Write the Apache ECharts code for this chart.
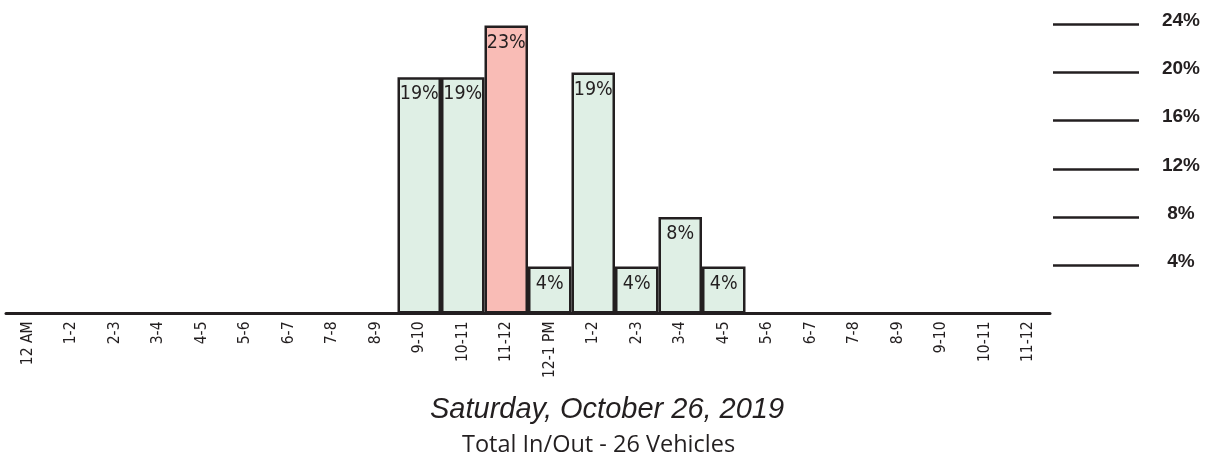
<!DOCTYPE html>
<html>
<head>
<meta charset="utf-8">
<script src="https://cdn.jsdelivr.net/npm/echarts@6/dist/echarts.min.js"></script>
<style>
html,body{margin:0;padding:0;background:#fff;}
#chart{width:1219px;height:458px;}
</style>
</head>
<body>
<div id="chart"></div>
<script>
// ---- data ----
const categories = ['12 AM','1-2','2-3','3-4','4-5','5-6','6-7','7-8','8-9','9-10','10-11','11-12','12-1 PM','1-2','2-3','3-4','4-5','5-6','6-7','7-8','8-9','9-10','10-11','11-12'];
const pctValues = [0,0,0,0,0,0,0,0,0,19.6,19.6,23.9,3.9,20.0,3.9,8.0,3.9,0,0,0,0,0,0,0];
const pctLabels = ['','','','','','','','','','19%','19%','23%','4%','19%','4%','8%','4%','','','','','','',''];
const scaleTicks = [0,4,8,12,16,20,24];
const titleText = 'Saturday, October 26, 2019';
const subtitleText = 'Total In/Out - 26 Vehicles';

const condensed = "'Liberation Sans Narrow','DejaVu Sans Condensed',sans-serif";
const ink = '#231f20';
const peak = Math.max.apply(null, pctValues);

const chart = echarts.init(document.getElementById('chart'), null, {renderer:'canvas'});
chart.setOption({
  animation:false,
  backgroundColor:'#fff',
  title:[
    {text:titleText, left:425, top:390, textStyle:{fontFamily:"'Liberation Sans',Arial,sans-serif", fontStyle:'italic', fontWeight:'normal', fontSize:29, color:ink}},
    {text:subtitleText, left:457, top:428, textStyle:{fontFamily:"'Open Sans','Noto Sans',sans-serif", fontWeight:'normal', fontSize:23.5, color:ink}}
  ],
  grid:[
    {left:6, right:169, top:24.3, bottom:144.5},
    {left:1053, width:86, top:24.3, bottom:144.5}
  ],
  xAxis:[
    {type:'category', gridIndex:0, data:categories,
     axisLine:{lineStyle:{color:ink, width:3}}, axisTick:{show:false},
     axisLabel:{rotate:90, interval:0, margin:8, fontSize:15.5, fontFamily:condensed, color:ink}},
    {type:'value', gridIndex:1, show:false}
  ],
  yAxis:[
    {type:'value', gridIndex:0, min:0, max:24, show:false, splitLine:{show:false}},
    {type:'value', gridIndex:1, min:scaleTicks[0], max:scaleTicks[scaleTicks.length-1], interval:4, position:'right',
     axisLine:{show:false}, axisTick:{show:false},
     splitLine:{show:true, lineStyle:{width:2.5, color:scaleTicks.map(t => t === 0 ? 'rgba(0,0,0,0)' : ink)}},
     axisLabel:{margin:42, align:'center', verticalAlign:'bottom', lineHeight:7, fontSize:19, fontWeight:'bold', fontFamily:"'Liberation Sans',Arial,sans-serif", color:ink,
       formatter: v => v === 0 ? '' : v + '%'}}
  ],
  series:[{
    type:'bar', xAxisIndex:0, yAxisIndex:0,
    barCategoryGap:'0%',
    data: pctValues.map(v => v === 0 ? {value:0, itemStyle:{borderWidth:0}} : v),
    itemStyle:{
      borderColor:ink, borderWidth:2.5,
      color: p => p.value === peak ? '#f9bcb6' : '#dfefe5'
    },
    label:{show:true, position:'insideTop', distance:7, fontSize:19.5, fontFamily:condensed, color:ink,
      formatter: p => pctLabels[p.dataIndex]}
  }]
});
</script>
</body>
</html>
